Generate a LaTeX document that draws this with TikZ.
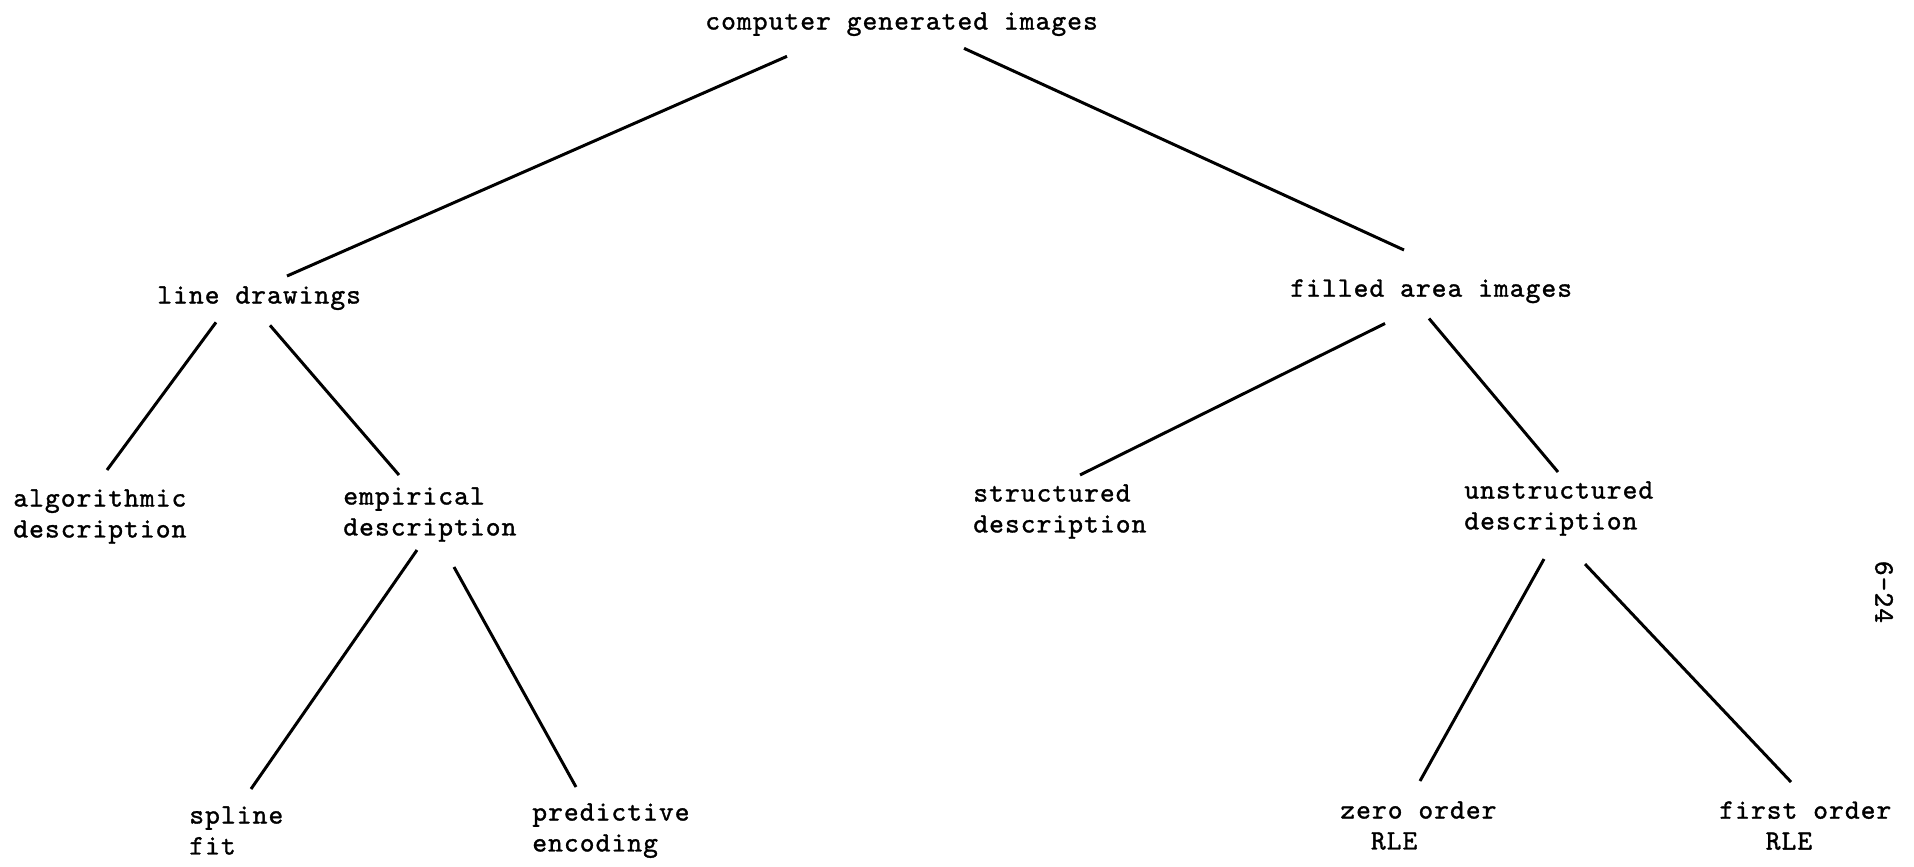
\documentclass[tikz,border=0pt]{standalone}
\usepackage{fontspec}
\newfontfamily\typewriter[LetterSpace=3.8,FakeBold=1.2]{lmmono10-regular.otf}
\newcommand{\typed}{\typewriter\fontsize{16}{17.6}\selectfont}
\begin{document}
\begin{tikzpicture}[x=0.02cm,y=-0.02cm,
	lbl/.style={anchor=north west, inner sep=0pt, align=left, font=\typed},
	branch/.style={line width=1.7pt}]
	\useasboundingbox (0,0) rectangle (1914,866);
	% labels
	\node[lbl] (cgi) at (705,12) {computer generated images};
	\node[lbl] (line) at (157,286) {line drawings};
	\node[lbl] (filled) at (1290,279) {filled area images};
	\node[lbl] (algo) at (13,489) {algorithmic\\description};
	\node[lbl] (empir) at (343,487) {empirical\\description};
	\node[lbl] (struct) at (973,484) {structured\\description};
	\node[lbl] (unstruct) at (1464,481) {unstructured\\description};
	\node[lbl] (spline) at (189,806) {spline\\fit};
	\node[lbl] (predict) at (532,803) {predictive\\encoding};
	\node[lbl] (zero) at (1340,801) {zero order\\\phantom{ze}RLE};
	\node[lbl] (first) at (1719,801) {first order\\\phantom{fir}RLE};
	\node[font=\typed, rotate=-90, inner sep=0pt] (page) at (1884,592) {6-24};
	% branches
	\draw[branch] ([shift={(82,20)}]cgi.south west) -- ([shift={(130,-10)}]line.north west);
	\draw[branch] ([shift={(259,12)}]cgi.south west) -- ([shift={(114,-29)}]filled.north west);
	\draw[branch] ([shift={(59,12)}]line.south west) -- ([shift={(94,-19)}]algo.north west);
	\draw[branch] ([shift={(113,15)}]line.south west) -- ([shift={(56,-12)}]empir.north west);
	\draw[branch] ([shift={(95,20)}]filled.south west) -- ([shift={(107,-9)}]struct.north west);
	\draw[branch] ([shift={(139,15)}]filled.south west) -- ([shift={(94,-9)}]unstruct.north west);
	\draw[branch] ([shift={(74,8)}]empir.south west) -- ([shift={(62,-17)}]spline.north west);
	\draw[branch] ([shift={(111,25)}]empir.south west) -- ([shift={(44,-16)}]predict.north west);
	\draw[branch] ([shift={(80,23)}]unstruct.south west) -- ([shift={(80,-20)}]zero.north west);
	\draw[branch] ([shift={(121,28)}]unstruct.south west) -- ([shift={(72,-19)}]first.north west);
\end{tikzpicture}
\end{document}
